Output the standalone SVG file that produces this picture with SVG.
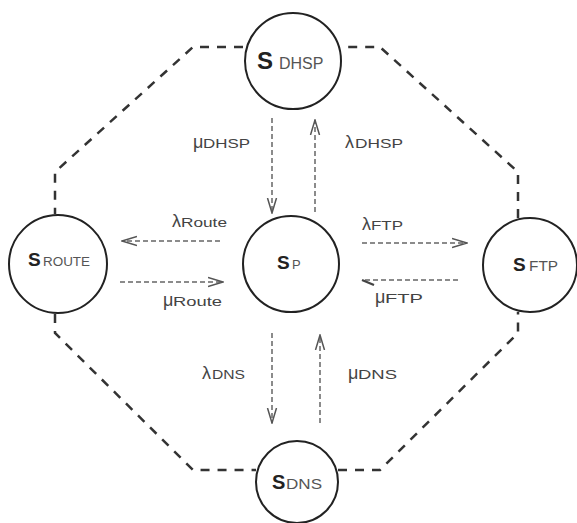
<svg xmlns="http://www.w3.org/2000/svg" width="577" height="523" viewBox="0 0 577 523">
<style>
.node{fill:#fff;stroke:#222;stroke-width:2}
.oct{fill:none;stroke:#333;stroke-width:2.5;stroke-dasharray:9 8}
.con{fill:none;stroke:#666;stroke-width:1.5;stroke-dasharray:5 3}
.S{font-family:"Liberation Sans",Arial,sans-serif;font-weight:bold;fill:#222}
.sub{font-family:"Liberation Sans",Arial,sans-serif;fill:#555}
.lbl{font-family:"Liberation Sans",Arial,sans-serif;fill:#444;font-size:13px}
.gr{font-family:"Liberation Sans",Arial,sans-serif;fill:#444;font-size:18px}
</style>
<defs>
<marker id="ah" markerUnits="userSpaceOnUse" markerWidth="16" markerHeight="12" refX="15" refY="6" orient="auto">
<path d="M0,1.5 L15,6 L0,10.5" fill="none" stroke="#555" stroke-width="1.5"/>
</marker>
<marker id="half" markerUnits="userSpaceOnUse" markerWidth="16" markerHeight="12" refX="14" refY="6" orient="auto">
<path d="M2,1 L14,6" fill="none" stroke="#444" stroke-width="2.2"/>
</marker>
</defs>
<g id="connectors">
<path class="oct" d="M243,47 L193,47 L55,172 L55,214"/>
<path class="oct" d="M55,314 L55,333 L193,470 L256,470"/>
<path class="oct" d="M338,470 L380,470 L518,333 L518,312"/>
<path class="oct" d="M518,218 L518,172 L380,47 L343,47"/>
<path class="con" d="M272,118 L272,213" marker-end="url(#ah)"/>
<path class="con" d="M315,212 L315,120" marker-end="url(#ah)"/>
<path class="con" d="M220,241 L122,241" marker-end="url(#ah)"/>
<path class="con" d="M120,282 L223,282" marker-end="url(#ah)"/>
<path class="con" d="M362,243 L467,243" marker-end="url(#ah)"/>
<path class="con" d="M458,280 L362,280" marker-end="url(#half)"/>
<path class="con" d="M272,333 L272,423" marker-end="url(#ah)"/>
<path class="con" d="M320,423 L320,335" marker-end="url(#ah)"/>
<text class="gr" x="193" y="148">μ</text><text class="lbl" x="203" y="148" textLength="47" lengthAdjust="spacingAndGlyphs">DHSP</text>
<text class="gr" x="345" y="148">λ</text><text class="lbl" x="355" y="148" textLength="48" lengthAdjust="spacingAndGlyphs">DHSP</text>
<text class="gr" x="172" y="227">λ</text><text class="lbl" x="181" y="227" textLength="46" lengthAdjust="spacingAndGlyphs">Route</text>
<text class="gr" x="163" y="306">μ</text><text class="lbl" x="173" y="306" textLength="49" lengthAdjust="spacingAndGlyphs">Route</text>
<text class="gr" x="362" y="230">λ</text><text class="lbl" x="371" y="230" textLength="32" lengthAdjust="spacingAndGlyphs">FTP</text>
<text class="gr" x="375" y="303">μ</text><text class="lbl" x="385" y="303" textLength="38" lengthAdjust="spacingAndGlyphs">FTP</text>
<text class="gr" x="202" y="379">λ</text><text class="lbl" x="212" y="379" textLength="33" lengthAdjust="spacingAndGlyphs">DNS</text>
<text class="gr" x="348" y="379">μ</text><text class="lbl" x="358" y="379" textLength="39" lengthAdjust="spacingAndGlyphs">DNS</text>
</g>
<g id="node-dhsp">
<circle class="node" cx="293" cy="61" r="48"/>
<text class="S" x="257" y="69" font-size="24">S</text>
<text class="sub" x="279" y="69" font-size="16">DHSP</text>
</g>
<g id="node-route">
<circle class="node" cx="58" cy="264" r="49"/>
<text class="S" x="28" y="266" font-size="19">S</text>
<text class="sub" x="43" y="266" font-size="12" textLength="47" lengthAdjust="spacingAndGlyphs">ROUTE</text>
</g>
<g id="node-p">
<circle class="node" cx="291" cy="264" r="48"/>
<text class="S" x="277" y="269" font-size="19">S</text>
<text class="sub" x="292" y="269" font-size="13">P</text>
</g>
<g id="node-ftp">
<circle class="node" cx="530" cy="265" r="47"/>
<text class="S" x="513" y="271" font-size="19">S</text>
<text class="sub" x="529" y="271" font-size="14" textLength="29" lengthAdjust="spacingAndGlyphs">FTP</text>
</g>
<g id="node-dns">
<circle class="node" cx="297" cy="482" r="41"/>
<text class="S" x="272" y="489" font-size="20">S</text>
<text class="sub" x="286" y="489" font-size="15" textLength="36" lengthAdjust="spacingAndGlyphs">DNS</text>
</g>
</svg>
